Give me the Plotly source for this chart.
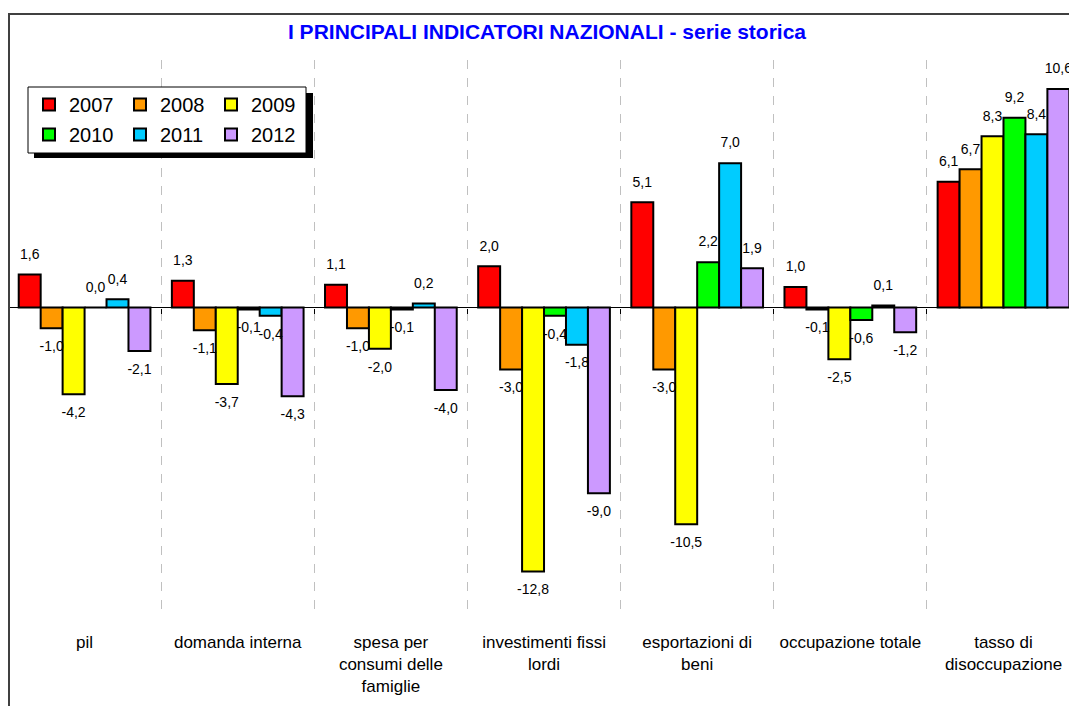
import plotly.graph_objects as go

categories = ["pil", "domanda interna", "spesa per<br>consumi delle<br>famiglie",
              "investimenti fissi<br>lordi", "esportazioni di<br>beni",
              "occupazione totale", "tasso di<br>disoccupazione"]
years = ["2007", "2008", "2009", "2010", "2011", "2012"]
v2007 = [1.6, 1.3, 1.1, 2.0, 5.1, 1.0, 6.1]
v2008 = [-1.0, -1.1, -1.0, -3.0, -3.0, -0.1, 6.7]
v2009 = [-4.2, -3.7, -2.0, -12.8, -10.5, -2.5, 8.3]
v2010 = [0.0, -0.1, -0.1, -0.4, 2.2, -0.6, 9.2]
v2011 = [0.4, -0.4, 0.2, -1.8, 7.0, 0.1, 8.4]
v2012 = [-2.1, -4.3, -4.0, -9.0, 1.9, -1.2, 10.6]
series = [v2007, v2008, v2009, v2010, v2011, v2012]
colors = ["#FF0000", "#FF9900", "#FFFF00", "#00FF00", "#00CCFF", "#CC99FF"]

# the page body adds an 8px offset; figure sized to the remaining viewport
OFF = 8
W, H = 1077 - OFF, 706 - OFF
ML, MR, MT, MB = 0, 0, 52, 89
PW = W - ML - MR
PH = H - MT - MB
Y_MIN, Y_MAX = -15, 12


def px(x_page):
    return (x_page - OFF - ML) / PW


def py(y_page):
    return (H - MB - (y_page - OFF)) / PH


FONT = "Arial, Liberation Sans, sans-serif"
GAP = 0.14

fig = go.Figure()
for i, (yr, vals, col) in enumerate(zip(years, series, colors)):
    fig.add_trace(go.Bar(
        name=yr, x=categories, y=vals,
        marker=dict(color=col, line=dict(color="black", width=2)),
        offsetgroup=yr,
        legend="legend" if i < 3 else "legend2",
        hoverinfo="skip",
    ))
for i, (yr, vals) in enumerate(zip(years, series)):
    fig.add_trace(go.Scatter(
        x=categories, y=vals, mode="markers+text", xaxis="x2",
        text=[f"{v:.1f}".replace(".", ",") for v in vals],
        textposition=["top center" if v >= 0 else "bottom center" for v in vals],
        textfont=dict(size=14, color="black", family=FONT),
        marker=dict(size=18, opacity=0),
        offsetgroup=yr, showlegend=False, cliponaxis=False, hoverinfo="skip",
    ))

shapes = [
    # outer frame
    dict(type="rect", xref="paper", yref="paper", x0=px(9), x1=px(1100), y0=py(780), y1=py(14),
         line=dict(color="#404040", width=2), fillcolor="rgba(0,0,0,0)", layer="above"),
    # legend shadow
    dict(type="rect", xref="paper", yref="paper", x0=px(34), x1=px(313), y0=py(158), y1=py(93),
         line=dict(width=0), fillcolor="black", layer="above"),
    # legend box
    dict(type="rect", xref="paper", yref="paper", x0=px(28), x1=px(306), y0=py(153), y1=py(87),
         line=dict(color="black", width=1), fillcolor="white", layer="above"),
]

legend_common = dict(
    orientation="h", xref="paper", yref="paper", xanchor="left", yanchor="middle",
    bgcolor="rgba(0,0,0,0)", borderwidth=0,
    font=dict(size=20, color="black", family=FONT),
    entrywidth=46, entrywidthmode="pixels", itemwidth=30,
)

fig.update_layout(
    width=W, height=H,
    margin=dict(l=ML, r=MR, t=MT, b=MB),
    paper_bgcolor="white", plot_bgcolor="white",
    barmode="group", bargap=GAP, bargroupgap=0,
    scattermode="group", scattergap=GAP,
    font=dict(family=FONT, color="black"),
    title=dict(text="<b>I PRINCIPALI INDICATORI NAZIONALI - serie storica</b>",
               font=dict(size=21, color="#0000FF", family=FONT),
               xref="container", yref="container", x=(547 - OFF) / W, y=1 - (32 - OFF) / H,
               xanchor="center", yanchor="middle"),
    xaxis=dict(type="category", tickson="boundaries", showgrid=True,
               range=[-0.5, 6.48],
               gridcolor="#C0C0C0", griddash="dash", gridwidth=1,
               ticks="", showline=False, zeroline=False, ticklabelstandoff=13,
               tickfont=dict(size=17, color="black", family=FONT)),
    xaxis2=dict(type="category", matches="x", overlaying="x", anchor="free",
                position=(0 - Y_MIN) / (Y_MAX - Y_MIN), side="bottom",
                tickson="boundaries", ticks="outside", ticklen=5, tickcolor="black",
                tickwidth=1, showticklabels=False, showgrid=False, showline=False,
                zeroline=False),
    yaxis=dict(range=[Y_MIN, Y_MAX], showgrid=False, showticklabels=False, ticks="",
               zeroline=True, zerolinecolor="black", zerolinewidth=1, showline=False),
    legend=dict(x=px(29), y=py(104.5), **legend_common),
    legend2=dict(x=px(29), y=py(134.5), **legend_common),
    shapes=shapes,
    showlegend=True,
)

fig.write_html("out.html")
